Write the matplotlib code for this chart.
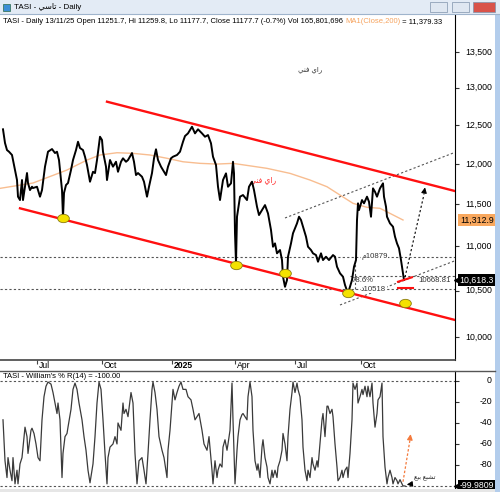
import matplotlib
matplotlib.use('Agg')
import matplotlib.pyplot as plt
import matplotlib.transforms as mtrans
from matplotlib.markers import MarkerStyle
from matplotlib.patches import Rectangle
from matplotlib.lines import Line2D
from matplotlib.ticker import NullLocator

plt.rcParams['font.family'] = ['Liberation Sans', 'DejaVu Sans']

W, H = 500, 492

# daily closes (session ~ bar position)
session = [3, 5, 7, 9, 12, 13, 15, 17, 18, 20, 22, 23, 25, 27, 28, 30, 32, 33, 37, 40,
           42, 45, 48, 52, 55, 57, 59, 62, 63, 64, 66, 68, 71, 73, 76, 78, 80, 83, 85, 87,
           90, 93, 95, 97, 100, 102, 103, 106, 107, 110, 113, 116, 118, 121, 123, 126, 128, 132, 134, 136,
           138, 142, 144, 147, 149, 152, 154, 156, 158, 161, 163, 166, 168, 171, 173, 177, 180, 183, 185, 188,
           192, 195, 198, 202, 205, 208, 211, 213, 216, 218, 220, 223, 226, 228, 231, 233, 234, 235, 236, 237,
           240, 243, 247, 249, 252, 254, 257, 259, 262, 265, 268, 271, 273, 275, 277, 280, 282, 283, 285, 287,
           288, 291, 293, 297, 299, 301, 303, 306, 308, 311, 313, 316, 318, 321, 323, 326, 329, 333, 335, 337,
           340, 343, 345, 347, 349, 352, 354, 356, 357, 358, 359, 362, 364, 367, 369, 371, 373, 375, 377, 380,
           383, 384, 386, 387, 390, 393, 395, 397, 399, 401, 403, 404]
close = [12444, 12266, 12175, 12154, 12112, 12048, 11922, 11797, 11592, 11551, 11797, 11551, 11714, 11884, 11760, 11673, 11714, 11698, 11714, 11592,
         11673, 11964, 12154, 12188, 12137, 12154, 12048, 11673, 11340, 11637, 11735, 11760, 11922, 12048, 12175, 12282, 12201, 12175, 12090, 11985,
         11776, 11900, 11884, 12048, 12347, 12305, 12154, 11964, 11797, 12048, 11964, 12026, 11900, 12026, 12070, 12026, 12048, 12137, 12026, 11859,
         11884, 11838, 11776, 11592, 11714, 11884, 12070, 12185, 12048, 11964, 11922, 11859, 11964, 12070, 12090, 12112, 12154, 12282, 12356, 12391,
         12478, 12391, 12444, 12391, 12347, 12369, 12262, 12090, 11985, 11714, 11551, 11797, 11880, 11714, 11756, 12026, 11880, 11154, 10807, 11350,
         11592, 11612, 11551, 11714, 11776, 11673, 11470, 11370, 11430, 11490, 11390, 11192, 10997, 11036, 10921, 10959, 10844, 10655, 10543, 10618,
         10882, 11036, 11154, 11271, 11350, 11311, 11231, 11114, 10997, 10959, 10921, 10901, 10825, 10921, 10844, 10882, 10844, 10901, 10882, 10768,
         10694, 10655, 10563, 10500, 10507, 10618, 10768, 10844, 11311, 11511, 11430, 11551, 11511, 11592, 11530, 11350, 11694, 11652, 11592, 11694,
         11756, 11592, 11470, 11350, 11271, 11231, 11114, 11036, 10979, 10844, 10694, 10618.3]

ma_session = [0, 33, 67, 87, 100, 117, 133, 150, 167, 183, 200, 217, 233, 267, 290, 310, 327, 340, 353, 367, 380, 390, 403]
ma200 = [11694, 11760, 11922, 12048, 12112, 12141, 12133, 12112, 12070, 12026, 12006, 11997, 12006, 11943, 11880, 11797,
         11714, 11612, 11511, 11463, 11451, 11390, 11311]

wr_session = [3, 5, 7, 8, 10, 12, 13, 15, 17, 18, 20, 22, 23, 25, 27, 28, 31, 32, 34, 36,
              38, 40, 42, 44, 46, 48, 51, 53, 55, 57, 58, 60, 62, 63, 65, 67, 68, 71, 73, 75,
              77, 79, 82, 84, 86, 88, 90, 93, 95, 97, 99, 101, 103, 105, 107, 108, 110, 113, 115, 117,
              118, 121, 123, 124, 126, 128, 131, 133, 135, 137, 139, 142, 144, 146, 148, 150, 152, 153, 155, 157,
              159, 162, 164, 167, 168, 170, 172, 173, 175, 177, 179, 181, 183, 186, 188, 191, 193, 195, 197, 199,
              202, 204, 207, 209, 212, 213, 215, 217, 218, 220, 222, 223, 225, 227, 228, 230, 232, 233, 235, 237,
              238, 240, 242, 243, 245, 247, 248, 250, 252, 253, 255, 257, 258, 260, 262, 263, 265, 267, 268, 270,
              272, 273, 275, 277, 278, 280, 282, 283, 285, 287, 288, 290, 292, 293, 295, 297, 298, 300, 302, 303,
              305, 307, 308, 310, 312, 313, 315, 317, 318, 320, 322, 323, 325, 327, 328, 330, 332, 333, 335, 337,
              338, 340, 342, 343, 345, 347, 348, 350, 352, 353, 355, 357, 358, 360, 362, 363, 365, 367, 368, 370,
              372, 373, 375, 377, 378, 380, 382, 383, 385, 387, 388, 390, 392, 393, 395, 397, 398, 400, 402, 403, 405]
wr14 = [-37, -76, -92, -73, -85, -95, -73, -98, -85, -98, -79, -73, -63, -44, -53, -69, -47, -45, -50, -60,
        -73, -76, -37, -15, -5, -1, -3, -11, -21, -31, -21, -37, -92, -69, -53, -50, -44, -27, -8, -2,
        -8, -21, -37, -53, -66, -85, -97, -79, -53, -21, -1, -8, -37, -69, -98, -73, -63, -60, -53, -60,
        -40, -47, -21, -31, -27, -34, -11, -21, -69, -98, -76, -73, -85, -98, -69, -37, -8, -1, -11, -27,
        -53, -66, -73, -92, -66, -47, -21, -8, -18, -11, -5, -1, -8, -8, -15, -18, -27, -37, -34, -31,
        -47, -60, -66, -53, -85, -98, -76, -92, -85, -79, -82, -63, -56, -66, -60, -47, -2, -37, -98, -66,
        -53, -37, -32, -31, -34, -37, -15, -1, -15, -47, -76, -85, -79, -92, -63, -56, -73, -82, -92, -98,
        -85, -92, -85, -92, -82, -76, -66, -50, -60, -76, -53, -27, -11, -1, -11, -2, -8, -15, -37, -63,
        -85, -95, -85, -92, -73, -79, -85, -76, -82, -60, -37, -31, -53, -24, -24, -31, -27, -34, -60, -82,
        -95, -92, -85, -92, -85, -82, -92, -69, -37, -2, -8, -2, -21, -15, -8, -13, -5, -15, -5, -15,
        -2, -21, -44, -31, -18, -15, -2, -53, -82, -98, -92, -85, -92, -98, -92, -95, -98, -94, -98, -100, -100]

price_ticks = [10000, 10500, 11000, 11500, 12000, 12500, 13000, 13500]
wr_ticks = [0, -20, -40, -60, -80]
month_pos = [37, 102, 172, 235, 295, 361]
month_lab = ['Jul', 'Oct', '2025', 'Apr', 'Jul', 'Oct']

# drawn studies
upper_x, upper_y = [107, 455], [12811, 11661]
lower_x, lower_y = [20, 455], [11451, 10181]
swing_x = [63, 236, 285, 348, 405]
swing_y = [11330, 10787, 10697, 10474, 10364]
resistance = 10879
support = 10518
fib786 = 10668.81
dash_up_x, dash_up_y = [285, 455], [11335, 12146]
dash_lo_x, dash_lo_y = [340, 455], [10343, 10836]


def fx(px):
    return px / W


def fy(py):
    return 1 - py / H


fig = plt.figure(figsize=(5, 4.92), dpi=100)
fig.patch.set_facecolor('white')

ax = fig.add_axes([0, fy(360), 455 / W, (360 - 14) / H])
ax2 = fig.add_axes([0, fy(489), 455 / W, (489 - 371) / H])

# ---- price panel
ax.set_yscale('log')
ax.set_ylim(9761, 14050)
ax.set_xlim(0, 455)

ax.plot(ma_session, ma200, color='#f8bd90', lw=1.0, zorder=3)
ax.plot(session, close, color='black', lw=1.4, zorder=4)

red = '#ff1010'
ax.plot(upper_x, upper_y, color=red, lw=1.7, zorder=5)
ax.plot(lower_x, lower_y, color=red, lw=1.7, zorder=5)

dot = dict(color='#555555', lw=0.8, ls=(0, (2, 2)), zorder=2)
ax.axhline(resistance, **dot)
ax.axhline(support, **dot)
ax.plot([350, 455], [fib786, fib786], **dot)
ax.plot(dash_up_x, dash_up_y, **dot)
ax.plot(dash_lo_x, dash_lo_y, **dot)
ax.plot([355, 355], [support, resistance], **dot)

# projected move
ax.plot([405, 424], [10650, 11620], color='black', lw=0.8, ls=(0, (2, 2)), zorder=6)
ax.annotate('', xy=(425.5, 11740), xytext=(423.5, 11600),
            arrowprops=dict(arrowstyle='-|>', color='black', lw=0.8, mutation_scale=8), zorder=6)

ax.plot([398, 412], [10599, 10649], color=red, lw=1.5, zorder=6)
ax.plot([398, 413], [10526, 10526], color=red, lw=1.5, zorder=6)

oval = MarkerStyle('o', transform=mtrans.Affine2D().scale(1.4, 1.0))
ax.plot(swing_x, swing_y, ls='none', marker=oval, ms=6, mfc='#f4e100', mec='#8a7b10', mew=0.6, zorder=7)

fs = 5.6
ax.text(352, fib786 * 0.9985, '78.6%', fontsize=fs, va='top', ha='left', color='#333333')
ax.text(418, fib786 * 0.9985, '10668.81', fontsize=fs, va='top', ha='left', color='#333333')
ax.text(361, resistance, '\uFEE110879', fontsize=fs, va='center', ha='left', color='#333333', zorder=8,
        bbox=dict(facecolor='white', edgecolor='none', pad=0.3))
ax.text(361, support, '\uFEA910518', fontsize=fs, va='center', ha='left', color='#333333', zorder=8,
        bbox=dict(facecolor='white', edgecolor='none', pad=0.3))

ray_fanni = '\uFEF2\uFEE8\uFED3 \uFEF1\uFE8D\uFEAD'
ax.text(310, 13250, ray_fanni, fontsize=5, ha='center', va='center', color='#333333')
ax.text(263, 11800, ray_fanni, fontsize=5.5, ha='center', va='center', color='#ff3030')

ax.yaxis.tick_right()
ax.set_yticks(price_ticks)
ax.yaxis.set_minor_locator(NullLocator())
ax.set_yticklabels([])
ax.set_xticks(month_pos)
ax.set_xticklabels([])
ax.tick_params(axis='y', length=3, width=0.8, color='#333333')
ax.tick_params(axis='x', length=3, width=0.8, color='#444444')
for s in ['left', 'top']:
    ax.spines[s].set_visible(False)
ax.spines['right'].set_color('black')
ax.spines['bottom'].set_color('#444444')
ax.spines['bottom'].set_linewidth(1.2)

ytr = mtrans.blended_transform_factory(ax.transAxes, ax.transData)
lab_x = 492 / 455
for v in price_ticks:
    ax.text(lab_x, v, f'{v:,}', transform=ytr, ha='right', va='center', fontsize=6.3, clip_on=False)
ax.text(lab_x + 0.004, 11312.9, '11,312.9', transform=ytr, ha='right', va='center', fontsize=6.3,
        bbox=dict(boxstyle='square,pad=0.2', facecolor='#f9a85e', edgecolor='none'))
ax.text(lab_x + 0.004, 10618.3, '10,618.3', transform=ytr, ha='right', va='center', fontsize=6.3,
        color='white', bbox=dict(boxstyle='square,pad=0.2', facecolor='black', edgecolor='none'))
ax.plot([1.004], [10618.3], marker='<', ms=4, color='black', transform=ytr, clip_on=False)

xtr = mtrans.blended_transform_factory(ax.transData, ax.transAxes)
for p, lab in zip(month_pos, month_lab):
    ax.text(p + 1.5, -0.004, lab, transform=xtr, ha='left', va='top', fontsize=6.2,
            fontweight='bold' if lab == '2025' else 'normal')

# ---- Williams %R panel
ax2.set_xlim(0, 455)
ax2.set_ylim(-102.9, 9.5)
ax2.plot(wr_session, wr14, color='#3a3a3a', lw=0.9, zorder=3)
ax2.axhline(0, **dot)
ax2.axhline(-100, **dot)
ax2.set_yticks(wr_ticks)
ax2.set_yticklabels([])
ax2.yaxis.tick_right()
ax2.set_xticks([])
ax2.tick_params(axis='y', length=3, width=0.8, color='#333333')
for s in ['left', 'top', 'bottom']:
    ax2.spines[s].set_visible(False)
ax2.spines['right'].set_color('black')

ytr2 = mtrans.blended_transform_factory(ax2.transAxes, ax2.transData)
for v in wr_ticks:
    ax2.text(lab_x, v, str(v), transform=ytr2, ha='right', va='center', fontsize=6.3, clip_on=False)
ax2.text(lab_x + 0.004, -99.98, '-99.9809', transform=ytr2, ha='right', va='center', fontsize=6.3,
         color='white', bbox=dict(boxstyle='square,pad=0.2', facecolor='black', edgecolor='none'))
ax2.plot([1.004], [-99.98], marker='<', ms=4, color='black', transform=ytr2, clip_on=False)

ax2.text(3, 4.5, "TASI - William's % R(14) = -100.00", fontsize=5.5, va='center', ha='left', zorder=5,
         bbox=dict(facecolor='white', edgecolor='none', pad=0.5))

orange = '#f47a3c'
ax2.plot([403, 410], [-96, -56], color=orange, lw=0.9, ls=(0, (2, 1.5)), zorder=5)
ax2.annotate('', xy=(411, -48), xytext=(409.6, -58),
             arrowprops=dict(arrowstyle='-|>', color=orange, lw=0.9, mutation_scale=8))
ax2.annotate('', xy=(404, -99), xytext=(413, -98),
             arrowprops=dict(arrowstyle='-|>', color='black', lw=0.8, mutation_scale=8))
ax2.text(414, -93, '\uFECA\uFEF4\uFE91 \uFECA\uFE92\uFEB8\uFE97', fontsize=4.6, ha='left', va='center',
         color='#222222')

# ---- window chrome
fig.add_artist(Line2D([0, fx(495)], [fy(371), fy(371)], color='#555555', lw=1.0))
fig.add_artist(Rectangle((0, fy(13.5)), 1, 13.5 / H, transform=fig.transFigure,
                         facecolor='#e3ebf5', edgecolor='none'))
fig.add_artist(Line2D([0, 1], [fy(13.5), fy(13.5)], color='#9fb4cc', lw=0.8))
fig.add_artist(Rectangle((fx(3), fy(11)), 7 / W, 7 / H, transform=fig.transFigure,
                         facecolor='#3d8fd6', edgecolor='#2a6a48', lw=0.5))
fig.text(fx(14), fy(7), 'TASI - \uFEF2\uFEB3\uFE8E\uFE97 - Daily', fontsize=5.8, va='center', ha='left')
for x0, x1, fc in [(430, 447, '#dfe7f1'), (452, 469, '#dfe7f1'), (473, 495, '#d9534a')]:
    fig.add_artist(Rectangle((fx(x0), fy(12)), (x1 - x0) / W, 10 / H, transform=fig.transFigure,
                             facecolor=fc, edgecolor='#7f93ab', lw=0.5))
fig.add_artist(Rectangle((fx(495), 0), 5 / W, fy(13.5), transform=fig.transFigure,
                         facecolor='#b3cdec', edgecolor='none'))
fig.add_artist(Rectangle((0, 0), fx(495), 3 / H, transform=fig.transFigure,
                         facecolor='#e6e6e6', edgecolor='none'))

# header line
hfs = 5.5
t1 = fig.text(fx(3), fy(21.5), 'TASI - Daily 13/11/25 Open 11251.7, Hi 11259.8, Lo 11177.7, '
              'Close 11177.7 (-0.7%) Vol 165,801,696 ', fontsize=hfs, va='center', ha='left')
t2 = ax.annotate('MA1(Close,200)', xy=(1, 0.5), xycoords=t1, va='center', ha='left',
                 fontsize=hfs, color='#f6a35e')
ax.annotate(' = 11,379.33', xy=(1, 0.5), xycoords=t2, va='center', ha='left', fontsize=hfs)

fig.savefig('out.png', dpi=100)
